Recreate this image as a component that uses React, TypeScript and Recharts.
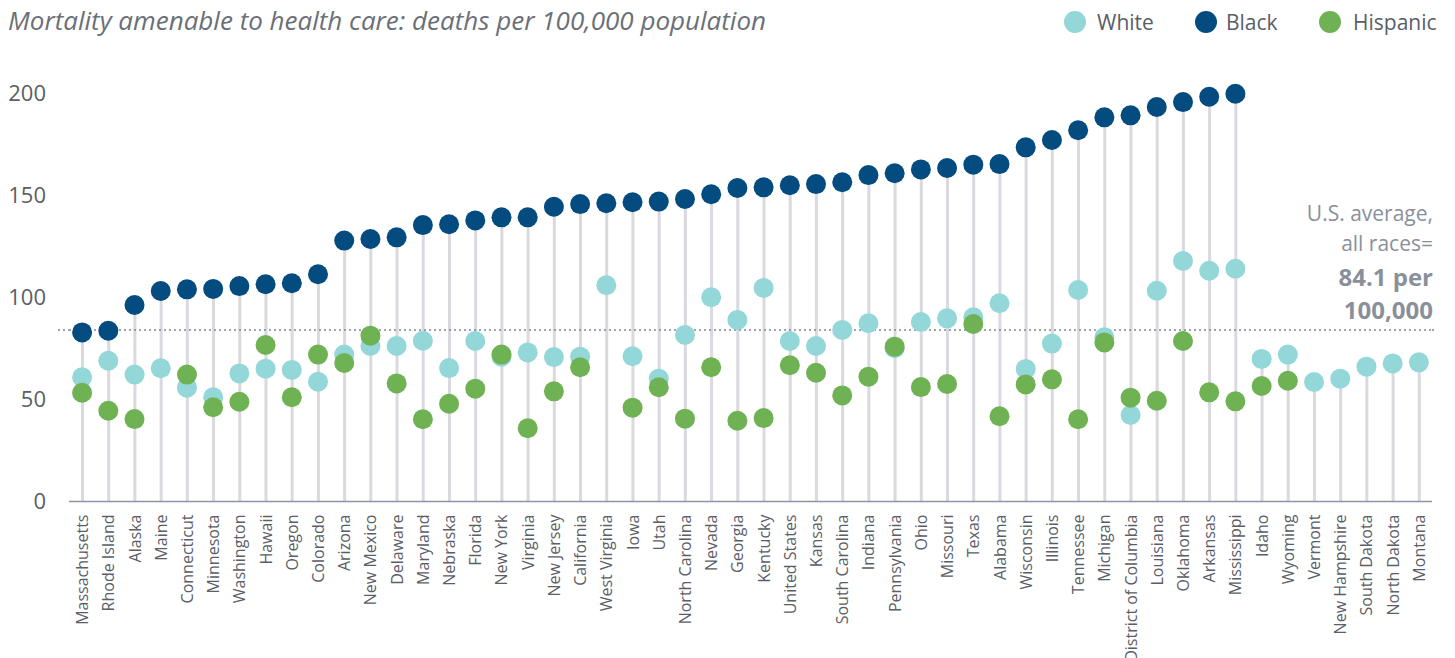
import React from "react";
import {
  ComposedChart,
  Bar,
  Scatter,
  XAxis,
  YAxis,
  ReferenceLine,
} from "recharts";

const states = [
  "Massachusetts", "Rhode Island", "Alaska", "Maine", "Connecticut", "Minnesota",
  "Washington", "Hawaii", "Oregon", "Colorado", "Arizona", "New Mexico", "Delaware",
  "Maryland", "Nebraska", "Florida", "New York", "Virginia", "New Jersey", "California",
  "West Virginia", "Iowa", "Utah", "North Carolina", "Nevada", "Georgia", "Kentucky",
  "United States", "Kansas", "South Carolina", "Indiana", "Pennsylvania", "Ohio",
  "Missouri", "Texas", "Alabama", "Wisconsin", "Illinois", "Tennessee", "Michigan",
  "District of Columbia", "Louisiana", "Oklahoma", "Arkansas", "Mississippi", "Idaho",
  "Wyoming", "Vermont", "New Hampshire", "South Dakota", "North Dakota", "Montana",
];

const whiteValues: (number | null)[] = [
  60.9, 69.0, 62.2, 65.3, 55.8, 51.1, 62.8, 65.1, 64.5, 58.7, 72.0, 76.2, 76.2,
  78.8, 65.4, 78.7, 71.0, 73.1, 70.8, 71.0, 106.0, 71.2, 60.2, 81.6, 100.1, 89.0,
  104.7, 78.7, 76.2, 84.1, 87.4, 75.1, 88.0, 89.8, 90.3, 97.2, 65.0, 77.4, 103.7,
  80.5, 42.4, 103.3, 117.9, 113.1, 114.1, 69.9, 72.0, 58.6, 60.2, 66.1, 67.7, 68.2,
];

const blackValues: (number | null)[] = [
  82.9, 83.7, 96.3, 103.2, 104.0, 104.2, 105.6, 106.5, 107.0, 111.4, 127.9, 128.7,
  129.5, 135.5, 135.9, 137.8, 139.3, 139.3, 144.5, 145.8, 146.2, 146.7, 147.0, 148.3,
  150.6, 153.7, 154.0, 155.0, 155.6, 156.5, 160.0, 160.9, 162.8, 163.5, 165.1, 165.4,
  173.6, 177.2, 182.0, 188.3, 189.3, 193.4, 195.8, 198.4, 199.9, null, null, null,
  null, null, null, null,
];

const hispanicValues: (number | null)[] = [
  53.3, 44.5, 40.4, null, 62.2, 46.2, 48.9, 76.7, 51.1, 72.0, 67.9, 81.3, 57.9,
  40.3, 47.9, 55.3, 72.0, 35.9, 54.0, 65.8, null, 46.0, 56.0, 40.6, 65.8, 39.6,
  40.9, 66.8, 63.1, 52.0, 61.2, 75.9, 56.1, 57.6, 87.0, 41.8, 57.4, 59.9, 40.3,
  78.0, 50.9, 49.4, 78.7, 53.5, 49.1, 56.6, 59.2, null, null, null, null, null,
];

const yTicks = [0, 50, 100, 150, 200];
const usAverage = 84.1;

const COLORS = {
  white: "#93d7d8",
  black: "#044c80",
  hispanic: "#6fb254",
  stem: "#d9d9df",
  text: "#5a5e66",
  note: "#8a909b",
  axis: "#8e95a2",
};

const data = states.map((s, i) => {
  const vals = [whiteValues[i], blackValues[i], hispanicValues[i]].filter(
    (v) => v !== null
  ) as number[];
  return {
    state: s,
    white: whiteValues[i],
    black: blackValues[i],
    hispanic: hispanicValues[i],
    stem: Math.max(...vals),
  };
});

const FONT = "'Open Sans', 'Noto Sans', sans-serif";

const makeDot = (color: string, key: string) => (props: any) => {
  const { cx, cy, payload } = props;
  if (!payload || payload[key] === null || payload[key] === undefined) return null;
  if (cx == null || cy == null || isNaN(cx) || isNaN(cy)) return null;
  return <circle cx={cx} cy={cy} r={10} fill={color} />;
};

const XTick = (props: any) => {
  const { x, payload } = props;
  const y = 493.5 + 13;
  return (
    <text
      transform={`translate(${x},${y}) rotate(-90)`}
      textAnchor="end"
      dominantBaseline="central"
      fontFamily={FONT}
      fontSize={16}
      fill={COLORS.text}
    >
      {payload.value}
    </text>
  );
};

const AvgLabel = (props: any) => {
  const { viewBox } = props;
  if (!viewBox) return null;
  const right = viewBox.x + viewBox.width + 1;
  const y = viewBox.y;
  return (
    <g fontFamily={FONT} fill={COLORS.note} textAnchor="end">
      <line
        x1={viewBox.x - 11}
        x2={viewBox.x}
        y1={y}
        y2={y}
        stroke="#7f8691"
        strokeWidth={1.5}
        strokeDasharray="2 3"
      />
      <line
        x1={viewBox.x + viewBox.width}
        x2={viewBox.x + viewBox.width + 5}
        y1={y}
        y2={y}
        stroke="#7f8691"
        strokeWidth={1.5}
        strokeDasharray="2 3"
      />
      <text x={right} y={y - 109} fontSize={21}>U.S. average,</text>
      <text x={right} y={y - 79} fontSize={21}>all races=</text>
      <text x={right} y={y - 44} fontSize={24} fontWeight={700}>84.1 per</text>
      <text x={right} y={y - 11} fontSize={24} fontWeight={700}>100,000</text>
    </g>
  );
};

const legendItems = [
  { label: "White", color: COLORS.white, cx: 1067, tx: 1089 },
  { label: "Black", color: COLORS.black, cx: 1198, tx: 1218 },
  { label: "Hispanic", color: COLORS.hispanic, cx: 1322, tx: 1345 },
];

export default function App() {
  return (
    <div style={{ position: "relative", width: 1447, height: 650 }}>
      <div
        style={{
          position: "absolute",
          left: 0,
          top: -3,
          fontFamily: FONT,
          fontStyle: "italic",
          fontSize: 26,
          lineHeight: "30px",
          color: "#6b6f78",
          whiteSpace: "nowrap",
        }}
      >
        Mortality amenable to health care: deaths per 100,000 population
      </div>
      {legendItems.map((it) => (
        <React.Fragment key={it.label}>
          <div
            style={{
              position: "absolute",
              left: it.cx - 11,
              top: 14 - 11,
              width: 22,
              height: 22,
              borderRadius: 11,
              background: it.color,
            }}
          />
          <div
            style={{
              position: "absolute",
              left: it.tx,
              top: 1,
              fontFamily: FONT,
              fontSize: 21,
              lineHeight: "26px",
              color: COLORS.text,
              whiteSpace: "nowrap",
            }}
          >
            {it.label}
          </div>
        </React.Fragment>
      ))}
      <ComposedChart
        width={1447}
        height={650}
        data={data}
        margin={{ top: 85.5, right: 23, bottom: 0, left: 0 }}
        style={{ overflow: "visible" }}
      >
        <XAxis
          dataKey="state"
          type="category"
          interval={0}
          height={156.5}
          tickLine={false}
          axisLine={{ stroke: COLORS.axis, strokeWidth: 1.5 }}
          tick={<XTick />}
        />
        <YAxis
          type="number"
          domain={[0, 200]}
          ticks={yTicks}
          width={61}
          axisLine={false}
          tickLine={false}
          tickSize={0}
          tickMargin={23}
          tick={{ fontFamily: FONT, fontSize: 22, fill: COLORS.text }}
        />
        <Bar dataKey="stem" barSize={3} fill={COLORS.stem} isAnimationActive={false} />
        <ReferenceLine
          y={usAverage}
          stroke="#7f8691"
          strokeWidth={1.5}
          strokeDasharray="2 3"
          label={<AvgLabel />}
        />
        <Scatter
          dataKey="white"
          fill={COLORS.white}
          shape={makeDot(COLORS.white, "white")}
          isAnimationActive={false}
        />
        <Scatter
          dataKey="black"
          fill={COLORS.black}
          shape={makeDot(COLORS.black, "black")}
          isAnimationActive={false}
        />
        <Scatter
          dataKey="hispanic"
          fill={COLORS.hispanic}
          shape={makeDot(COLORS.hispanic, "hispanic")}
          isAnimationActive={false}
        />
      </ComposedChart>
    </div>
  );
}
